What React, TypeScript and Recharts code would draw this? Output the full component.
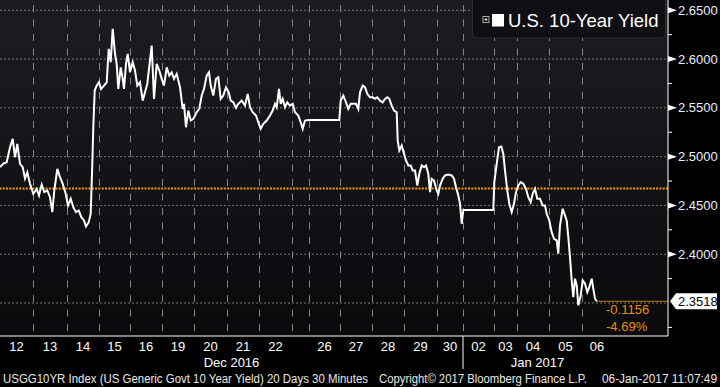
import { LineChart, Line, XAxis, YAxis, ReferenceLine, CartesianGrid } from "recharts";

// session time (half-hour bar clock, 20 sessions) and USGG10YR yield
const times = [
  0, 3.3, 6.7, 10, 12.7, 15, 17.3, 20, 22.7, 25, 27.3, 30,
  33.3, 36.7, 39, 41.7, 44.3, 47.3, 50, 52.3, 54.3, 57.3, 60, 62.7, 65.3,
  68, 70.7, 73.3, 76, 78.7, 81.3, 84, 86, 88.7, 90.7, 92.3, 93.3, 94.7, 96.7,
  99, 101, 104, 106.7, 108.7, 110.7, 112.7, 115, 116.7, 118.3, 120.7, 122.7, 124, 126, 127.7,
  130, 132.7, 135, 137.3, 140, 142.7, 145, 147.3, 151.7, 154, 156.7, 159.3,
  161.7, 164, 166.7, 169.3, 171.7, 174, 176.7, 180, 182.7, 184, 186, 188.3, 190.7, 193.3,
  196.7, 199.3, 201.7, 204, 206.7, 209, 210.7, 213.3, 216, 218.3, 220.7, 223.3, 226,
  228.7, 230.7, 233.3, 236, 238.3, 241.7, 245, 247.7, 250, 252.7, 256, 258.3,
  260.7, 263.3, 266.7, 270, 272.7, 275, 276.7, 279, 280.7, 282.7, 285, 287.3, 290,
  292.7, 295, 298.3, 300.7, 302.7, 305, 308.3,
  339.3, 340.7, 343.3, 346, 348.3, 350.7, 353.3, 356, 358.3, 360, 362.7, 365, 367.3, 370,
  372.7, 375, 377.3, 380, 382.7, 385, 387.3, 389.3, 391.7, 394, 396.7, 397.7, 399.3, 401.7,
  404, 406, 408.3, 410.7, 412.7, 415, 417.3, 419.3, 421.7, 424, 426, 428.3, 430, 431.7, 434,
  436.7, 438.3, 440, 442.7, 445, 448.3, 451.7, 454, 456, 458.3, 460, 461.7, 463.3,
  493.3, 494.3, 496.7, 499, 501.3, 503.3, 505, 507.3, 509.3, 511.7, 514, 516,
  518.3, 520.7, 523.3, 526, 528.3, 530.7, 532.7, 535, 537.3, 540, 542.7, 545, 546.7,
  549.3, 551.7, 554, 556.7, 558.3, 560, 562.7, 565, 566.7, 568.3, 570, 571.7, 573.3, 575,
  576.7, 578.3, 580.7, 582.7, 585, 587.3, 589.3, 591.7, 593.3, 595, 596.7,
];
const yields = [
  2.4892, 2.4929, 2.4943, 2.5096, 2.5182, 2.4994, 2.5131, 2.4926, 2.4892, 2.4776, 2.484, 2.4722,
  2.4619, 2.467, 2.4602, 2.4714, 2.4636, 2.4653, 2.4584, 2.4431, 2.4653, 2.4875, 2.4789, 2.4722, 2.4636,
  2.4499, 2.4568, 2.4482, 2.4431, 2.4448, 2.438, 2.4346, 2.4284, 2.4328, 2.4414, 2.4926, 2.5301, 2.5677, 2.5728,
  2.5762, 2.5694, 2.5728, 2.5762, 2.6104, 2.5967, 2.6309, 2.6053, 2.595, 2.5694, 2.5915, 2.5797, 2.5694, 2.595, 2.6053,
  2.5864, 2.5967, 2.5882, 2.5728, 2.5762, 2.5574, 2.5659, 2.5745, 2.6138, 2.5592, 2.595, 2.5882,
  2.5797, 2.5728, 2.5915, 2.583, 2.5864, 2.5797, 2.5848, 2.5711, 2.5489, 2.5541, 2.5301, 2.5472, 2.537, 2.5387,
  2.5455, 2.5489, 2.5626, 2.5694, 2.583, 2.5864, 2.5728, 2.5626, 2.5797, 2.5813, 2.5592, 2.5626, 2.5711,
  2.5659, 2.5574, 2.5557, 2.55, 2.5541, 2.5574, 2.5523, 2.5643, 2.5506, 2.5455, 2.5421, 2.5352,
  2.5285, 2.5336, 2.537, 2.5421, 2.5472, 2.5541, 2.5506, 2.5694, 2.5541, 2.5592, 2.5506, 2.5557, 2.5523,
  2.5541, 2.5455, 2.5421, 2.5352, 2.5285, 2.537, 2.5375,
  2.5375, 2.5574, 2.5626, 2.5557, 2.5489, 2.5541, 2.5541, 2.5541, 2.5489, 2.5659, 2.5728, 2.5711, 2.5643, 2.5608,
  2.5608, 2.5592, 2.5608, 2.5574, 2.5557, 2.5592, 2.5608, 2.5592, 2.5523, 2.5472, 2.5455, 2.5165, 2.5063, 2.5114,
  2.5029, 2.496, 2.4909, 2.4909, 2.4858, 2.4858, 2.4704, 2.4824, 2.4909, 2.4892, 2.4909, 2.4824, 2.4636, 2.4773, 2.4755,
  2.4653, 2.4619, 2.4704, 2.4773, 2.4807, 2.4817, 2.4807, 2.4773, 2.4687, 2.4602, 2.4517, 2.4312, 2.4452,
  2.4452, 2.4738, 2.4926, 2.5096, 2.5103, 2.5029, 2.4858, 2.4653, 2.4517, 2.4431, 2.4517, 2.4636,
  2.4704, 2.4738, 2.4722, 2.467, 2.4584, 2.4533, 2.4619, 2.467, 2.4568, 2.4568, 2.4499, 2.4499, 2.4414,
  2.4346, 2.4226, 2.4158, 2.4141, 2.4005, 2.4295, 2.4466, 2.4397, 2.4346, 2.4175, 2.397, 2.3732, 2.356, 2.3749,
  2.368, 2.3476, 2.3578, 2.3732, 2.3698, 2.3612, 2.3663, 2.3749, 2.3647, 2.3544, 2.3518,
];

const dayLabels = ["12", "13", "14", "15", "16", "19", "20", "21", "22", "23", "26", "27", "28", "29", "30", "02", "03", "04", "05", "06"];
const dayStarts = [0, 33, 67, 99, 130, 162, 194, 227, 259, 292, 309, 340, 372, 404, 437, 463, 494, 517, 549, 582];
const sessionEnd = 612;
const monthLabels = ["Dec 2016", "Jan 2017"];
const monthStarts = [0, 463];
const yTicks = [2.325, 2.35, 2.375, 2.4, 2.425, 2.45, 2.475, 2.5, 2.525, 2.55, 2.575, 2.6, 2.625, 2.65];
const baseValue = 2.4674;

const FONT = "'Liberation Sans', Arial, sans-serif";
const W = 720;
const H = 387;
const Y_AXIS_W = 52;
const PLOT_W = W - Y_AXIS_W;
const PLOT_H = 336;
const X_MAX = 668;
const AXIS_H = 17;

const data = times.map((t, i) => ({ t, y: yields[i] }));
const last = data[data.length - 1];
const change = last.y - baseValue;
const changePct = (change / baseValue) * 100;

const dayEnds = dayStarts.map((_, i) => dayStarts[i + 1] ?? sessionEnd);
const dayMids = dayStarts.map((s, i) => (s + dayEnds[i]) / 2);
const dayBounds = dayStarts.slice(1);
const monthEnds = monthStarts.map((_, i) => monthStarts[i + 1] ?? sessionEnd);
const monthMids = monthStarts.map((s, i) => (s + monthEnds[i]) / 2);
const monthTicks = [...monthMids, ...monthStarts.slice(1)].sort((a, b) => a - b);

const isMajor = (v: number) => Math.round(v * 1000) % 50 === 0;
// the last-value flag hides the axis tick it sits on
const axisTicks = [...yTicks.filter((v) => Math.abs(v - last.y) > 0.008), last.y].sort((a, b) => a - b);

// session separators sit under the chart (same linear x domain as the axes)
const sessionX = (t: number) => Math.round((t / X_MAX) * PLOT_W) + 0.5;

const DayTick = ({ x, y, payload }: any) => {
  const i = dayMids.indexOf(payload.value);
  if (i < 0 || dayEnds[i] - dayStarts[i] < 20) return <g />;
  return (
    <text x={x} y={y + 15} textAnchor="middle" fill="#fff" fontSize={13} fontFamily={FONT}>
      {dayLabels[i]}
    </text>
  );
};

const MonthTick = ({ x, y, payload }: any) => {
  const i = monthMids.indexOf(payload.value);
  if (i < 0) return <line x1={x} x2={x} y1={y - AXIS_H} y2={y + 16} stroke="#fff" strokeWidth={1} />;
  return (
    <text x={x} y={y + 14} textAnchor="middle" fill="#fff" fontSize={13} fontFamily={FONT}>
      {monthLabels[i]}
    </text>
  );
};

const YTick = ({ x, y, payload }: any) => {
  const v = payload.value;
  if (v === last.y) {
    return (
      <g>
        <polygon points={`${x + 2},${y} ${x + 8},${y - 8} ${x + 49},${y - 8} ${x + 49},${y + 8} ${x + 8},${y + 8}`} fill="#fff" />
        <text x={x + 10} y={y + 4.5} fill="#000" fontSize={13} fontFamily={FONT}>{v.toFixed(4)}</text>
        <text x={x - 62} y={y + 13} fill="#ec8c0c" fontSize={13} fontFamily={FONT}>{change.toFixed(4)}</text>
        <text x={x - 62} y={y + 30} fill="#ec8c0c" fontSize={13} fontFamily={FONT}>{changePct.toFixed(2)}%</text>
      </g>
    );
  }
  if (!isMajor(v)) return <line x1={x} x2={x + 4} y1={y} y2={y} stroke="#fff" strokeWidth={1} />;
  return (
    <g>
      <polygon points={`${x},${y - 3} ${x},${y + 3} ${x + 9},${y}`} fill="#fff" />
      <text x={x + 10} y={y + 4.5} fill="#e6f0ff" fontSize={13} fontFamily={FONT}>{v.toFixed(4)}</text>
    </g>
  );
};

export default function App() {
  return (
    <div style={{ position: "absolute", left: 0, top: 0, width: W, height: H, background: "#000", overflow: "hidden" }}>
      <div style={{ position: "absolute", left: 0, top: 0, width: PLOT_W, height: PLOT_H, background: "linear-gradient(#1d1d21, #0a0a0d)" }} />
      <svg width={PLOT_W} height={PLOT_H} style={{ position: "absolute", left: 0, top: 0 }}>
        {dayBounds.map((t) => (
          <line
            key={t}
            x1={sessionX(t)}
            x2={sessionX(t)}
            y1={5}
            y2={PLOT_H}
            stroke="#858585"
            strokeWidth={1}
            strokeDasharray="7 7.5"
          />
        ))}
      </svg>
      <LineChart
        width={W}
        height={H}
        data={data}
        margin={{ top: 0, right: 0, bottom: 17, left: 0 }}
        style={{ position: "absolute", left: 0, top: 0 }}
      >
        <CartesianGrid
          xAxisId="day"
          vertical={false}
          horizontalValues={yTicks.filter(isMajor)}
          stroke="#777"
          strokeDasharray="2 2"
        />
        <XAxis
          xAxisId="day"
          dataKey="t"
          type="number"
          domain={[0, X_MAX]}
          allowDataOverflow
          ticks={dayMids}
          interval={0}
          height={AXIS_H}
          tickSize={0}
          tickMargin={0}
          tickLine={false}
          axisLine={{ stroke: "#fff", strokeWidth: 1 }}
          tick={<DayTick />}
        />
        <XAxis
          xAxisId="month"
          dataKey="t"
          type="number"
          domain={[0, X_MAX]}
          allowDataOverflow
          ticks={monthTicks}
          interval={0}
          height={AXIS_H}
          tickSize={0}
          tickMargin={0}
          tickLine={false}
          axisLine={false}
          tick={<MonthTick />}
        />
        <YAxis
          orientation="right"
          width={Y_AXIS_W}
          type="number"
          domain={[2.3162, 2.6605]}
          allowDataOverflow
          ticks={axisTicks}
          interval={0}
          tickSize={0}
          tickMargin={0}
          tickLine={false}
          axisLine={{ stroke: "#fff", strokeWidth: 1 }}
          tick={<YTick />}
        />
        <ReferenceLine xAxisId="day" y={baseValue} stroke="#f39a00" strokeWidth={2} strokeDasharray="2 1.3" />
        <ReferenceLine
          xAxisId="day"
          segment={[{ x: last.t, y: last.y }, { x: X_MAX, y: last.y }]}
          stroke="#c8780e"
          strokeWidth={1}
        />
        <Line
          xAxisId="day"
          dataKey="y"
          type="linear"
          stroke="#fff"
          strokeWidth={2}
          dot={false}
          activeDot={false}
          isAnimationActive={false}
        />
      </LineChart>
      <svg width={W} height={H} style={{ position: "absolute", left: 0, top: 0, pointerEvents: "none" }} fontFamily={FONT}>
        <rect x={472.5} y={-5} width={193} height={43} rx={5} fill="#101014" stroke="#2c2c31" />
        <rect x={483} y={16.5} width={6} height={6} fill="none" stroke="#aaa" strokeWidth={1} />
        <line x1={484.5} x2={487.5} y1={19.5} y2={19.5} stroke="#ddd" />
        <line x1={486} x2={486} y1={18} y2={21} stroke="#ddd" />
        <rect x={492} y={14} width={12} height={12.5} fill="#fff" />
        <text x={508} y={27} fill="#fff" fontSize={18.5}>U.S. 10-Year Yield</text>
        <text x={3} y={383} fill="#e8e8e8" fontSize={12} textLength={365} lengthAdjust="spacingAndGlyphs">
          USGG10YR Index (US Generic Govt 10 Year Yield) 20 Days 30 Minutes
        </text>
        <text x={379} y={383} fill="#e8e8e8" fontSize={12} textLength={208} lengthAdjust="spacingAndGlyphs">
          Copyright© 2017 Bloomberg Finance L.P.
        </text>
        <text x={602} y={383} fill="#e8e8e8" fontSize={12} textLength={115} lengthAdjust="spacingAndGlyphs">
          06-Jan-2017 11:07:49
        </text>
      </svg>
    </div>
  );
}
